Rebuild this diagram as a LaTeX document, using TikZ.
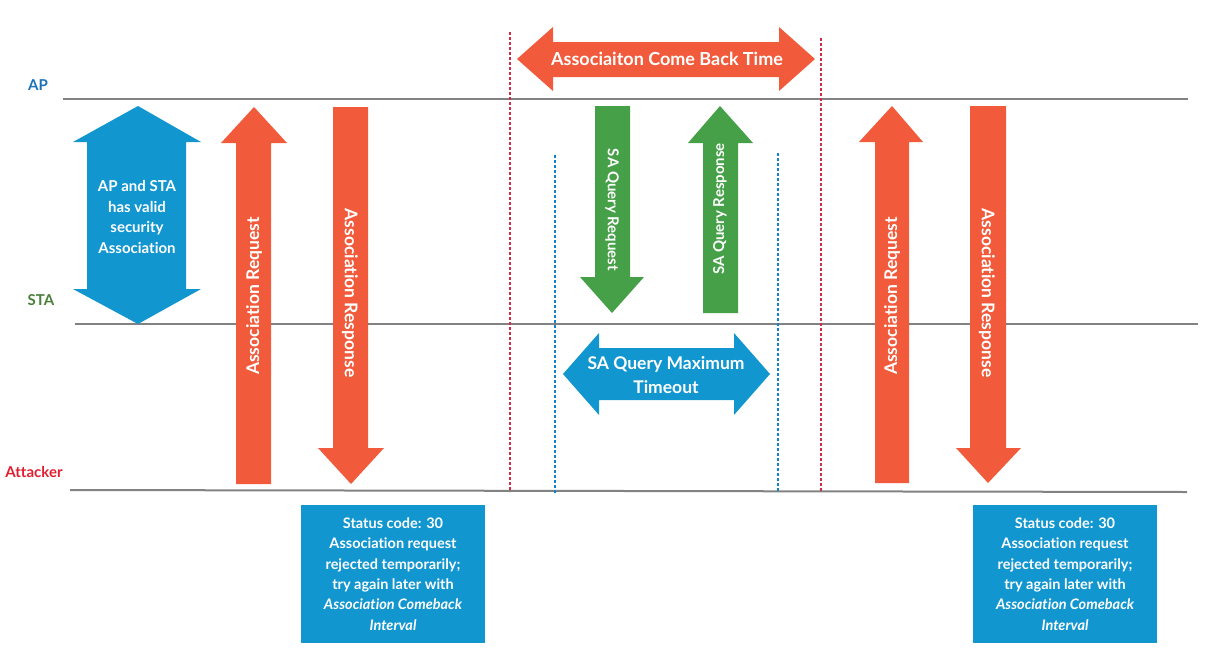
\documentclass[tikz,border=0pt]{standalone}
\usepackage{fontspec}
\setmainfont{Lato}[Ligatures={NoCommon}]
\definecolor{orng}{RGB}{241,90,58}
\definecolor{blu}{RGB}{17,150,208}
\definecolor{grn}{RGB}{69,160,72}
\definecolor{lgray}{RGB}{130,130,130}
\definecolor{aplab}{RGB}{26,115,185}
\definecolor{stalab}{RGB}{72,128,56}
\definecolor{attlab}{RGB}{225,30,45}
\definecolor{reddash}{RGB}{205,45,75}
\definecolor{bludash}{RGB}{20,130,200}
\begin{document}
\begin{tikzpicture}[x=1pt,y=-1pt,
  timeline/.style={draw=lgray,line width=2pt},
  rlabel/.style={font=\fontsize{15}{17}\selectfont\bfseries,anchor=center},
  atext/.style={text=white,font=\fontsize{17.5}{20}\selectfont\bfseries,inner sep=0pt},
  gtext/.style={text=white,font=\fontsize{15}{17}\selectfont\bfseries,inner sep=0pt},
  statusbox/.style={fill=blu,text=white,minimum width=184pt,minimum height=138pt,inner sep=0pt,
     align=center,font=\fontsize{14.5}{20.4}\selectfont\bfseries},
  reddashed/.style={draw=reddash,line width=1.2pt,dash pattern=on 3pt off 2pt},
  bludashed/.style={draw=bludash,line width=1.4pt,dash pattern=on 3pt off 2pt}]
\useasboundingbox (0,0) rectangle (1231,651);

% timelines
\coordinate (ap1) at (63,99);   \coordinate (ap2) at (1188,99);
\coordinate (sta1) at (75,324); \coordinate (sta2) at (1198,324);
\coordinate (at1) at (70,490);  \coordinate (at2) at (1187,492);
\draw[timeline] (ap1) -- (ap2);
\draw[timeline] (sta1) -- (sta2);
\draw[timeline] (at1) -- (at2);

\node[rlabel,text=aplab] (lap) at (38,85) {AP};
\node[rlabel,text=stalab] (lsta) at (41,300) {STA};
\node[rlabel,text=attlab] (latt) at (34,472) {Attacker};

% dashed lines
\coordinate (rd1t) at (510,32); \coordinate (rd1b) at (510,492);
\coordinate (rd2t) at (821,38); \coordinate (rd2b) at (821,492);
\coordinate (bd1t) at (555,155); \coordinate (bd1b) at (555,494);
\coordinate (bd2t) at (778,153); \coordinate (bd2b) at (778,492);
\draw[reddashed] (rd1t) -- (rd1b);
\draw[reddashed] (rd2t) -- (rd2b);
\draw[bludashed] (bd1t) -- (bd1b);
\draw[bludashed] (bd2t) -- (bd2b);

% blue vertical double arrow
\fill[blu] (138,106) -- (201,142) -- (186,142) -- (186,289) -- (201,289) -- (138,324)
  -- (73,289) -- (87,289) -- (87,142) -- (73,142) -- cycle;
\node[text=white,font=\fontsize{15}{20.7}\selectfont\bfseries,align=center] (sec) at (137,217)
  {AP and STA\\has valid\\security\\Association};

% orange association arrows (left)
\fill[orng] (236,484) -- (271,484) -- (271,143) -- (287,143) -- (254,107) -- (221,143) -- (236,143) -- cycle;
\node[atext,rotate=90] (req1) at (254,296) {Association Request};
\fill[orng] (333,107) -- (368,107) -- (368,448) -- (384,448) -- (351,484) -- (318,448) -- (333,448) -- cycle;
\node[atext,rotate=-90] (resp1) at (350,293) {Association Response};

% orange association arrows (right)
\fill[orng] (875,483) -- (909,483) -- (909,142) -- (923,142) -- (892,106) -- (859,142) -- (875,142) -- cycle;
\node[atext,rotate=90] (req2) at (892,296) {Association Request};
\fill[orng] (970,106) -- (1006,106) -- (1006,448) -- (1021,448) -- (988,483) -- (956,448) -- (970,448) -- cycle;
\node[atext,rotate=-90] (resp2) at (987,293) {Association Response};

% come back time horizontal arrow
\fill[orng] (517,59) -- (553,27) -- (553,42) -- (779,42) -- (779,27) -- (815,59)
  -- (779,91) -- (779,77) -- (553,77) -- (553,91) -- cycle;
\node[text=white,font=\fontsize{18}{21}\selectfont\bfseries,inner sep=0pt] (cbt) at (667,59) {Associaiton Come Back Time};

% green SA query arrows
\fill[grn] (595,106) -- (630,106) -- (630,277) -- (644,277) -- (612,313) -- (580,277) -- (595,277) -- cycle;
\node[gtext,rotate=-90] (saq) at (612,210) {SA Query Request};
\fill[grn] (703,313) -- (738,313) -- (738,143) -- (753,143) -- (720,106) -- (688,143) -- (703,143) -- cycle;
\node[gtext,rotate=90] (sar) at (720,209) {SA Query Response};

% SA query maximum timeout
\fill[blu] (563,374) -- (599,333) -- (599,348) -- (734,348) -- (734,333) -- (770,374)
  -- (734,415) -- (734,400) -- (599,400) -- (599,415) -- cycle;
\node[text=white,font=\fontsize{17.5}{24.5}\selectfont\bfseries,align=center] (samt) at (666,375)
  {SA Query Maximum\\Timeout};

% status boxes
\node[statusbox] (st1) at (393,574) {Status code: 30\\Association request\\rejected temporarily;\\try again later with\\\itshape Association Comeback\\\itshape Interval};
\node[statusbox] (st2) at (1065,574) {Status code: 30\\Association request\\rejected temporarily;\\try again later with\\\itshape Association Comeback\\\itshape Interval};
\end{tikzpicture}
\end{document}
